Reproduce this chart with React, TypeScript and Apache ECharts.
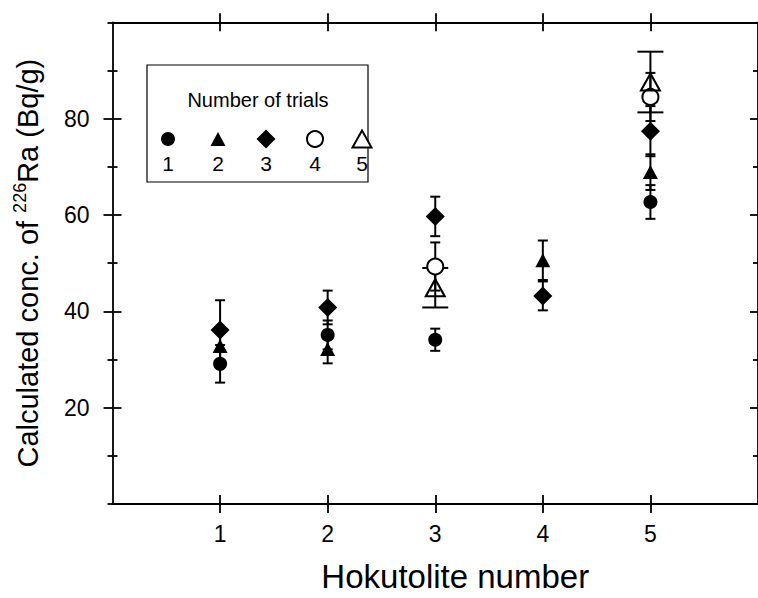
import React, { useEffect, useRef } from "react";
import * as echarts from "echarts";

// ---- data ----
const hokutoliteTicks = [1, 2, 3, 4, 5];
const concMajorTicks = [20, 40, 60, 80];
const concMinorTicks = [10, 30, 50, 70, 90];
const concEdgeTicks = [0, 10, 30, 50, 70, 90, 100];
const trialNames = ["1", "2", "3", "4", "5"];

const trial1X = [1, 2, 3, 5];
const trial1Y = [29.1, 35.1, 34.1, 62.7];
const trial1Err = [3.9, 3.0, 2.3, 3.5];

const trial2X = [1, 2, 4, 5];
const trial2Y = [32.8, 32.2, 50.6, 68.9];
const trial2Err = [3.0, 3.0, 4.1, 3.7];

const trial3X = [1, 2, 3, 4, 5];
const trial3Y = [36.1, 40.8, 59.7, 43.2, 77.4];
const trial3Err = [6.2, 3.5, 4.1, 3.0, 5.2];

const trial4X = [3, 5];
const trial4Y = [49.3, 84.5];
const trial4Err = [5.0, 5.0];

const trial5X = [3, 5];
const trial5Y = [44.9, 87.6];
const trial5Err = [4.1, 6.3];

const FONT = "'Liberation Sans', Arial, Helvetica, sans-serif";

type Trial = {
  name: string;
  xs: number[];
  ys: number[];
  errs: number[];
  symbol: string;
  size: number | number[];
  filled: boolean;
  capHalf: number;
  fill: string;
};

const trials: Trial[] = [
  { name: trialNames[0], xs: trial1X, ys: trial1Y, errs: trial1Err, symbol: "circle", size: 14, filled: true, capHalf: 5, fill: "#000" },
  { name: trialNames[1], xs: trial2X, ys: trial2Y, errs: trial2Err, symbol: "triangle", size: [15, 14], filled: true, capHalf: 5, fill: "#000" },
  { name: trialNames[2], xs: trial3X, ys: trial3Y, errs: trial3Err, symbol: "diamond", size: [19, 19], filled: true, capHalf: 5, fill: "#000" },
  { name: trialNames[3], xs: trial4X, ys: trial4Y, errs: trial4Err, symbol: "circle", size: 16, filled: false, capHalf: 5, fill: "#fff" },
  { name: trialNames[4], xs: trial5X, ys: trial5Y, errs: trial5Err, symbol: "triangle", size: [19, 17], filled: false, capHalf: 13, fill: "rgba(0,0,0,0)" },
];

export default function App() {
  const ref = useRef<HTMLDivElement>(null);

  useEffect(() => {
    if (!ref.current) return;
    const chart = echarts.init(ref.current, null, { renderer: "svg" });

    const tickStyle = { color: "#000", width: 1.8 };
    const baseX = {
      type: "value" as const,
      min: 0,
      max: 6,
      interval: 1,
      splitLine: { show: false },
    };
    const baseY = {
      type: "value" as const,
      min: 0,
      max: 100,
      interval: 20,
      splitLine: { show: false },
    };
    const noLine = { show: false, onZero: false };
    const line = { show: true, onZero: false, lineStyle: { color: "#000", width: 1.8 } };

    const xAxis = [
      {
        ...baseX,
        position: "bottom",
        axisLine: line,
        axisTick: { show: true, inside: false, length: 9, customValues: hokutoliteTicks, lineStyle: tickStyle },
        axisLabel: { show: true, customValues: hokutoliteTicks, margin: 18, fontSize: 23, color: "#000", fontFamily: FONT },
        name: "Hokutolite number",
        nameLocation: "middle",
        nameGap: 56,
        nameTextStyle: { fontSize: 33, color: "#000", fontFamily: FONT, padding: [0, 0, 0, 40] },
      },
      { ...baseX, position: "bottom", axisLine: noLine, axisTick: { show: true, inside: true, length: 9, customValues: hokutoliteTicks, lineStyle: tickStyle }, axisLabel: { show: false } },
      { ...baseX, position: "top", axisLine: line, axisTick: { show: true, inside: false, length: 9, customValues: hokutoliteTicks, lineStyle: tickStyle }, axisLabel: { show: false } },
      { ...baseX, position: "top", axisLine: noLine, axisTick: { show: true, inside: true, length: 9, customValues: hokutoliteTicks, lineStyle: tickStyle }, axisLabel: { show: false } },
    ];

    const yAxis = [
      {
        ...baseY,
        position: "left",
        axisLine: line,
        axisTick: { show: true, inside: false, length: 9, customValues: concMajorTicks, lineStyle: tickStyle },
        axisLabel: { show: true, customValues: concMajorTicks, margin: 23, fontSize: 23, color: "#000", fontFamily: FONT },
        name: "{n|Calculated conc. of }{s|226}{n|Ra (Bq/g)}",
        nameLocation: "middle",
        nameGap: 68,
        nameRotate: 90,
        nameTextStyle: {
          fontSize: 29,
          color: "#000",
          fontFamily: FONT,
          rich: {
            n: { fontSize: 29, fontFamily: FONT, color: "#000", lineHeight: 34 },
            s: { fontSize: 18, fontFamily: FONT, color: "#000", lineHeight: 34, verticalAlign: "top", padding: [0, 0, 12, 0] },
          },
        },
      },
      { ...baseY, position: "left", axisLine: noLine, axisTick: { show: true, inside: true, length: 9, customValues: concMajorTicks, lineStyle: tickStyle }, axisLabel: { show: false } },
      { ...baseY, position: "left", axisLine: noLine, axisTick: { show: true, inside: false, length: 5, customValues: concEdgeTicks, lineStyle: tickStyle }, axisLabel: { show: false } },
      { ...baseY, position: "left", axisLine: noLine, axisTick: { show: true, inside: true, length: 5, customValues: concMinorTicks, lineStyle: tickStyle }, axisLabel: { show: false } },
      { ...baseY, position: "right", axisLine: line, axisTick: { show: true, inside: true, length: 8, customValues: concMajorTicks, lineStyle: tickStyle }, axisLabel: { show: false } },
      { ...baseY, position: "right", axisLine: noLine, axisTick: { show: true, inside: true, length: 5, customValues: concMinorTicks, lineStyle: tickStyle }, axisLabel: { show: false } },
    ];

    const errSeries = trials.map((t) => ({
      type: "custom",
      name: t.name + "-err",
      xAxisIndex: 0,
      yAxisIndex: 0,
      z: 2,
      silent: true,
      data: t.xs.map((x, i) => [x, t.ys[i], t.errs[i]]),
      renderItem: (params: any, api: any) => {
        const x = api.value(0);
        const y = api.value(1);
        const e = api.value(2);
        const hi = api.coord([x, y + e]);
        const lo = api.coord([x, y - e]);
        const st = { stroke: "#000", lineWidth: 2 };
        const h = t.capHalf;
        return {
          type: "group",
          children: [
            { type: "line", shape: { x1: hi[0], y1: hi[1], x2: lo[0], y2: lo[1] }, style: st },
            { type: "line", shape: { x1: hi[0] - h, y1: hi[1], x2: hi[0] + h, y2: hi[1] }, style: st },
            { type: "line", shape: { x1: lo[0] - h, y1: lo[1], x2: lo[0] + h, y2: lo[1] }, style: st },
          ],
        };
      },
    }));

    const order = [0, 1, 2, 4, 3];
    const markerSeries = order.map((k) => {
      const t = trials[k];
      return {
        type: "scatter",
        name: t.name,
        xAxisIndex: 0,
        yAxisIndex: 0,
        z: 3 + k,
        symbol: t.symbol,
        symbolSize: t.size,
        data: t.xs.map((x, i) => [x, t.ys[i]]),
        itemStyle: t.filled
          ? { color: "#000", opacity: 1 }
          : { color: t.fill, borderColor: "#000", borderWidth: 2, opacity: 1 },
        emphasis: { disabled: true },
      };
    });

    // legend box (graphic)
    const legX = [168, 218, 266, 315, 362];
    const legendChildren: any[] = [
      { type: "rect", shape: { x: 147, y: 65, width: 221, height: 117 }, style: { fill: "#fff", stroke: "#000", lineWidth: 1.2 } },
      { type: "text", x: 258, y: 100, style: { text: "Number of trials", fontSize: 20, fontFamily: FONT, fill: "#000", align: "center", verticalAlign: "middle" } },
    ];
    const legShapes = [
      (cx: number) => ({ type: "circle", shape: { cx, cy: 139, r: 7 }, style: { fill: "#000" } }),
      (cx: number) => ({ type: "polygon", shape: { points: [[cx, 132], [cx + 7.5, 146], [cx - 7.5, 146]] }, style: { fill: "#000" } }),
      (cx: number) => ({ type: "polygon", shape: { points: [[cx, 129.5], [cx + 9.5, 139], [cx, 148.5], [cx - 9.5, 139]] }, style: { fill: "#000" } }),
      (cx: number) => ({ type: "circle", shape: { cx, cy: 139, r: 8 }, style: { fill: "#fff", stroke: "#000", lineWidth: 2 } }),
      (cx: number) => ({ type: "polygon", shape: { points: [[cx, 130.5], [cx + 9.5, 147.5], [cx - 9.5, 147.5]] }, style: { fill: "#fff", stroke: "#000", lineWidth: 2 } }),
    ];
    trialNames.forEach((nm, i) => {
      legendChildren.push(legShapes[i](legX[i]));
      legendChildren.push({ type: "text", x: legX[i], y: 163, style: { text: nm, fontSize: 21, fontFamily: FONT, fill: "#000", align: "center", verticalAlign: "middle" } });
    });

    chart.setOption({
      animation: false,
      backgroundColor: "#fff",
      grid: { left: 112.5, top: 22.3, width: 647, height: 484.7, containLabel: false },
      xAxis,
      yAxis,
      series: [...errSeries, ...markerSeries],
      graphic: [{ type: "group", z: 100, children: legendChildren }],
    } as any);

    return () => chart.dispose();
  }, []);

  return (
    <div
      ref={ref}
      style={{ position: "fixed", left: 0, top: 0, width: 758, height: 598, background: "#fff" }}
    />
  );
}
